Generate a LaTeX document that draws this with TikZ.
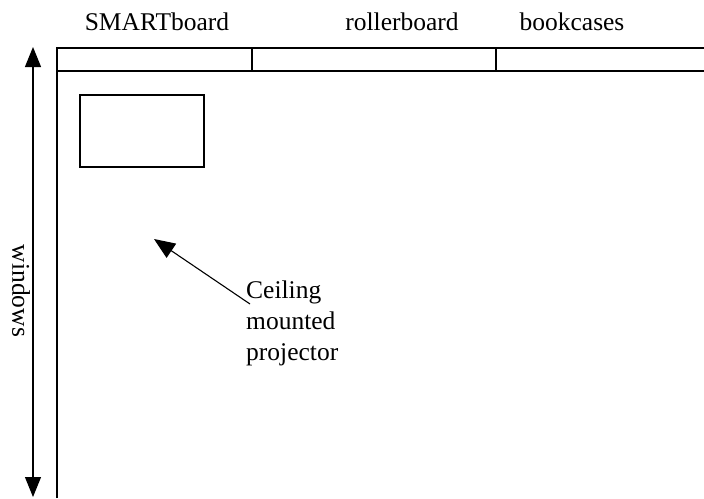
\documentclass[tikz,border=0pt]{standalone}
\usepackage{fontspec}
\setmainfont{Liberation Serif}
\usetikzlibrary{arrows.meta}
\tikzset{
  wall/.style={line width=1.1pt},
  lbl/.style={font=\fontsize{25.5}{31}\selectfont, inner sep=0pt},
  bigtip/.style={-{Triangle[width=17pt,length=21pt]}}
}
\begin{document}
\begin{tikzpicture}[x=1pt,y=-1pt]
\useasboundingbox (0,0) rectangle (704,498);
% walls and shelf strip
\draw[wall] (57,498) -- (57,48) -- (704,48);
\draw[wall] (57,71) -- (704,71);
\draw[wall] (252,48) -- (252,71);
\draw[wall] (496,48) -- (496,71);
\node[lbl] (smart) at (157,22) {SMARTboard};
\node[lbl] (roller) at (402,22) {rollerboard};
\node[lbl] (books) at (572,22) {bookcases};
% screen
\draw[wall] (80,95) rectangle (204,167);
% windows
\coordinate (wtop) at (33,47);
\coordinate (wbot) at (33,497);
\draw[wall,{Triangle[width=16pt,length=20pt]}-{Triangle[width=16pt,length=20pt]}] (wtop) -- (wbot);
\node[lbl,rotate=-90] (win) at (21,291) {windows};
% projector
\node[lbl,anchor=north west,align=left] (proj) at (246,281) {Ceiling\\mounted\\projector};
\coordinate (ptail) at (250,304);
\coordinate (ptip) at (154,239);
\draw[wall,bigtip] (ptail) -- (ptip);
\end{tikzpicture}
\end{document}
